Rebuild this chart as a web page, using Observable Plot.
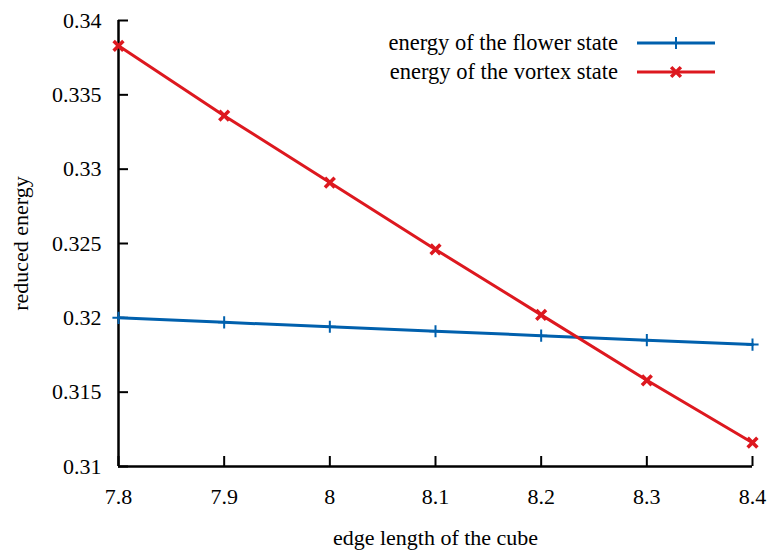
<!DOCTYPE html>
<html><head><meta charset="utf-8">
<script src="https://cdn.jsdelivr.net/npm/d3@7"></script>
<script src="https://cdn.jsdelivr.net/npm/@observablehq/plot@0.6"></script>
<style>
body{margin:0;background:#fff;}
#wrap{position:relative;width:768px;height:553px;font-family:"Liberation Serif","Times New Roman",serif;}
#legend{position:absolute;left:0;top:0;pointer-events:none;}
</style></head><body><div id="wrap"></div>
<script>
const edgeLength = [7.8, 7.9, 8.0, 8.1, 8.2, 8.3, 8.4];
const flowerEnergy = [0.3200, 0.3197, 0.3194, 0.3191, 0.3188, 0.3185, 0.3182];
const vortexEnergy = [0.3383, 0.3336, 0.3291, 0.3246, 0.3202, 0.3158, 0.3116];
const xTicks = [7.8, 7.9, 8.0, 8.1, 8.2, 8.3, 8.4];
const xTickLabels = ["7.8", "7.9", "8", "8.1", "8.2", "8.3", "8.4"];
const yTicks = [0.31, 0.315, 0.32, 0.325, 0.33, 0.335, 0.34];
const yTickLabels = ["0.31", "0.315", "0.32", "0.325", "0.33", "0.335", "0.34"];
const seriesNames = ["energy of the flower state", "energy of the vortex state"];
const seriesColors = ["#0060ad", "#dd181f"];
const seriesSymbols = ["plus", "times"];
const xLabel = "edge length of the cube";
const yLabel = "reduced energy";

const flower = edgeLength.map((x, i) => ({x, y: flowerEnergy[i]}));
const vortex = edgeLength.map((x, i) => ({x, y: vortexEnergy[i]}));
const xDomain = [xTicks[0], xTicks[xTicks.length - 1]];
const yDomain = [yTicks[0], yTicks[yTicks.length - 1]];
const xFmt = d => xTickLabels[xTicks.findIndex(t => Math.abs(t - d) < 1e-9)];
const yFmt = d => yTickLabels[yTicks.findIndex(t => Math.abs(t - d) < 1e-9)];

const FONT = "'Liberation Serif', 'Times New Roman', serif";
const W = 768, H = 553;
const chart = Plot.plot({
  width: W, height: H,
  marginLeft: 118, marginRight: 16, marginTop: 20, marginBottom: 87,
  style: {fontFamily: FONT, fontSize: "22px", background: "#fff", color: "#000"},
  x: {domain: xDomain},
  y: {domain: yDomain},
  marks: [
    Plot.axisX(xTicks, {tickSize: -10, tickPadding: 32, tickFormat: xFmt, strokeWidth: 2, label: xLabel, labelAnchor: "center", labelOffset: 78, labelArrow: "none"}),
    Plot.axisY(yTicks, {tickSize: -10, tickPadding: 27, tickFormat: yFmt, strokeWidth: 2, label: yLabel, labelAnchor: "center", labelOffset: 106, labelArrow: "none"}),
    Plot.ruleY([yDomain[0]], {stroke: "#000", strokeWidth: 2.5}),
    Plot.ruleX([xDomain[0]], {stroke: "#000", strokeWidth: 2.5}),
    Plot.line(flower, {x: "x", y: "y", stroke: seriesColors[0], strokeWidth: 3}),
    Plot.dot(flower, {x: "x", y: "y", symbol: seriesSymbols[0], r: 4, stroke: seriesColors[0], strokeWidth: 2}),
    Plot.line(vortex, {x: "x", y: "y", stroke: seriesColors[1], strokeWidth: 3}),
    Plot.dot(vortex, {x: "x", y: "y", symbol: seriesSymbols[1], r: 4.5, stroke: seriesColors[1], strokeWidth: 3.5})
  ]
});
const wrap = document.getElementById("wrap");
wrap.appendChild(chart);

// legend overlay
const ns = "http://www.w3.org/2000/svg";
const leg = document.createElementNS(ns, "svg");
leg.setAttribute("id", "legend");
leg.setAttribute("width", W); leg.setAttribute("height", H);
const legRowY = [43, 72];
seriesNames.forEach((name, i) => {
  const y = legRowY[i];
  const t = document.createElementNS(ns, "text");
  t.setAttribute("x", 618); t.setAttribute("y", y);
  t.setAttribute("text-anchor", "end");
  t.setAttribute("dy", "0.3em");
  t.setAttribute("style", `font-family:${FONT};font-size:22.5px`);
  t.setAttribute("fill", "#000");
  t.textContent = name;
  leg.appendChild(t);
  const l = document.createElementNS(ns, "line");
  l.setAttribute("x1", 637); l.setAttribute("x2", 715);
  l.setAttribute("y1", y); l.setAttribute("y2", y);
  l.setAttribute("stroke", seriesColors[i]); l.setAttribute("stroke-width", 3);
  leg.appendChild(l);
  const sym = seriesSymbols[i] === "plus" ? d3.symbolPlus : d3.symbolTimes;
  const r = i === 0 ? 4 : 4.5;
  const p = document.createElementNS(ns, "path");
  p.setAttribute("d", d3.symbol(sym, r * r * Math.PI)());
  p.setAttribute("transform", `translate(676,${y})`);
  p.setAttribute("fill", "none");
  p.setAttribute("stroke", seriesColors[i]);
  p.setAttribute("stroke-width", i === 0 ? 2 : 3.5);
  leg.appendChild(p);
});
wrap.appendChild(leg);
</script></body></html>
